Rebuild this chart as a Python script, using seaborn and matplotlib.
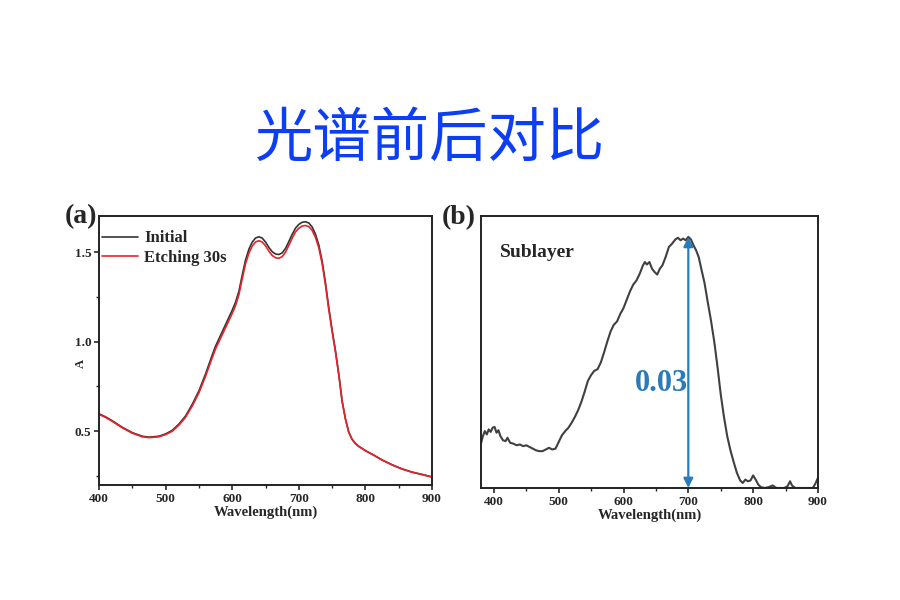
import numpy as np
import pandas as pd
import matplotlib
matplotlib.use("Agg")
import matplotlib.pyplot as plt
from matplotlib.ticker import MultipleLocator
import seaborn as sns

# ---------------- data ----------------
wl_a = [400, 410, 420, 435, 450, 465, 475, 490, 500, 510, 520, 530, 540, 550, 560,
        570, 575, 580, 590, 600, 605, 610, 615, 620, 625, 630, 635, 640, 645, 650,
        655, 660, 665, 670, 675, 680, 685, 690, 695, 700, 705, 710, 715, 720, 725,
        730, 735, 740, 745, 750, 755, 760, 765, 770, 775, 780, 785, 790, 800, 812,
        825, 840, 855, 870, 885, 900]
initial = [0.597, 0.580, 0.558, 0.522, 0.492, 0.472, 0.467, 0.472, 0.485, 0.505, 0.540, 0.585, 0.650, 0.725, 0.820,
           0.925, 0.975, 1.015, 1.095, 1.175, 1.220, 1.280, 1.370, 1.455, 1.515, 1.555, 1.578, 1.585, 1.578, 1.556,
           1.526, 1.502, 1.489, 1.486, 1.495, 1.520, 1.558, 1.598, 1.633, 1.654, 1.666, 1.669, 1.662, 1.640, 1.600,
           1.540, 1.450, 1.330, 1.190, 1.065, 0.950, 0.820, 0.670, 0.570, 0.495, 0.455, 0.432, 0.416, 0.392, 0.368,
           0.340, 0.313, 0.290, 0.272, 0.259, 0.245]
etching = [0.594, 0.577, 0.555, 0.519, 0.489, 0.469, 0.464, 0.469, 0.481, 0.500, 0.534, 0.578, 0.641, 0.714, 0.807,
           0.910, 0.960, 0.999, 1.078, 1.157, 1.201, 1.261, 1.350, 1.434, 1.493, 1.533, 1.556, 1.563, 1.556, 1.535,
           1.505, 1.481, 1.468, 1.465, 1.474, 1.499, 1.537, 1.577, 1.612, 1.633, 1.645, 1.648, 1.642, 1.621, 1.582,
           1.524, 1.436, 1.318, 1.180, 1.057, 0.944, 0.816, 0.667, 0.568, 0.494, 0.454, 0.431, 0.415, 0.391, 0.367,
           0.339, 0.312, 0.289, 0.271, 0.258, 0.244]

wl_b = [380, 383, 386, 389, 392, 395, 398, 401, 404, 407, 410, 414, 418, 421, 425,
        430, 435, 440, 445, 450, 455, 460, 465, 470, 475, 480, 485, 490, 495, 500,
        505, 510, 515, 520, 525, 530, 535, 540, 545, 550, 555, 560, 565, 570, 575,
        580, 585, 590, 595, 600, 605, 610, 615, 620, 625, 630, 633, 636, 640, 644,
        648, 652, 656, 660, 665, 670, 675, 680, 684, 688, 692, 696, 700, 704, 708,
        712, 716, 720, 725, 730, 735, 740, 745, 750, 755, 760, 765, 770, 775, 780,
        784, 788, 792, 796, 800, 804, 808, 812, 818, 824, 830, 836, 842, 848, 853,
        857, 860, 865, 870, 878, 886, 892, 896, 900]
sublayer = [0.0053, 0.0062, 0.0068, 0.0064, 0.0070, 0.0067, 0.0072, 0.0073, 0.0066, 0.0069, 0.0062, 0.0057, 0.0056, 0.0060, 0.0054,
            0.0053, 0.0051, 0.0052, 0.0050, 0.0051, 0.0049, 0.0047, 0.0045, 0.0044, 0.0044, 0.0046, 0.0048, 0.0046, 0.0047, 0.0055,
            0.0063, 0.0068, 0.0072, 0.0078, 0.0085, 0.0093, 0.0103, 0.0115, 0.0128, 0.0135, 0.0140, 0.0142, 0.0150, 0.0162, 0.0175,
            0.0187, 0.0195, 0.0199, 0.0208, 0.0215, 0.0225, 0.0235, 0.0243, 0.0248, 0.0256, 0.0266, 0.0270, 0.0267, 0.0270, 0.0262,
            0.0258, 0.0255, 0.0262, 0.0266, 0.0276, 0.0288, 0.0292, 0.0297, 0.0299, 0.0296, 0.0298, 0.0296, 0.0300, 0.0297, 0.0290,
            0.0284, 0.0276, 0.0262, 0.0245, 0.0222, 0.0200, 0.0175, 0.0145, 0.0112, 0.0085, 0.0062, 0.0045, 0.0031, 0.0018, 0.0009,
            0.0006, 0.0010, 0.0008, 0.0009, 0.0015, 0.0010, 0.0004, 0.0001, 0.0000, 0.0001, 0.0003, 0.0000, 0.0000, 0.0000, 0.0002,
            0.0008, 0.0003, 0.0000, 0.0000, 0.0000, 0.0000, 0.0000, 0.0005, 0.0012]

# ---------------- style ----------------
sns.set_theme(style="ticks")
plt.rcParams['font.family'] = ['Liberation Serif', 'DejaVu Serif']
plt.rcParams['font.weight'] = 'bold'

fig = plt.figure(figsize=(9, 6), dpi=100)
fig.patch.set_facecolor('white')

fig.text(0.478, 0.768, "光谱前后对比", fontsize=42, color='#0B3EF5', fontweight='normal',
         family=['Noto Sans CJK SC', 'DejaVu Sans'], ha='center', va='center')

ax1 = fig.add_axes([0.110, 0.1917, 0.370, 0.448])
ax2 = fig.add_axes([0.5344, 0.1867, 0.3744, 0.4533])

df_a = pd.DataFrame({
    "wl": wl_a * 2,
    "A": initial + etching,
    "series": ["Initial"] * len(wl_a) + ["Etching 30s"] * len(wl_a),
})
sns.lineplot(data=df_a, x="wl", y="A", hue="series",
             palette={"Initial": "#333333", "Etching 30s": "#E8222A"},
             ax=ax1, linewidth=1.2, legend=True)
ax1.set_xlim(400, 900)
ax1.set_ylim(0.2, 1.7)
ax1.xaxis.set_major_locator(MultipleLocator(100))
ax1.xaxis.set_minor_locator(MultipleLocator(50))
ax1.yaxis.set_major_locator(MultipleLocator(0.5))
ax1.yaxis.set_minor_locator(MultipleLocator(0.25))
ax1.set_xlabel("Wavelength(nm)", fontsize=10.5, fontweight='bold', labelpad=0.5)
ax1.set_ylabel("A", fontsize=9, fontweight='bold')
ax1.yaxis.set_label_coords(-0.037, 0.453)
leg = ax1.legend(loc='upper left', frameon=False, fontsize=12, handlelength=2.15,
                 bbox_to_anchor=(-0.01, 0.972), borderaxespad=0.0, labelspacing=0.2,
                 handletextpad=0.35)
for t in leg.get_texts():
    t.set_fontweight('bold')
ax1.text(-0.054, 1.0, "(a)", transform=ax1.transAxes, fontsize=20, fontweight='bold',
         ha='center', va='center')

df_b = pd.DataFrame({"wl": wl_b, "abs": sublayer})
sns.lineplot(data=df_b, x="wl", y="abs", ax=ax2, color="#404040", linewidth=1.5)
ax2.set_xlim(380, 900)
ax2.set_ylim(0, 0.0325)
ax2.xaxis.set_major_locator(MultipleLocator(100))
ax2.xaxis.set_minor_locator(MultipleLocator(50))
ax2.set_yticks([])
ax2.set_xlabel("Wavelength(nm)", fontsize=10.5, fontweight='bold', labelpad=0.5)
ax2.set_ylabel("")
ax2.annotate("", xy=(700, 0.0300), xytext=(700, 0.0),
             arrowprops=dict(arrowstyle='<|-|>', color='#2B7BBA', lw=1.6,
                             mutation_scale=14, shrinkA=0, shrinkB=0))
ax2.text(699, 0.0125, "0.03", color='#2B7BBA', fontsize=22, fontweight='bold',
         ha='right', va='center')
ax2.text(0.055, 0.865, "Sublayer", transform=ax2.transAxes, fontsize=14,
         fontweight='bold', ha='left', va='center')
ax2.text(-0.065, 0.993, "(b)", transform=ax2.transAxes, fontsize=20, fontweight='bold',
         ha='center', va='center')

for ax in (ax1, ax2):
    for s in ax.spines.values():
        s.set_visible(True)
        s.set_color('#222222')
        s.set_linewidth(1.4)
    ax.tick_params(axis='both', which='major', direction='out', length=3.5, width=1.2,
                   labelsize=9.5, pad=2)
    ax.tick_params(axis='both', which='minor', direction='out', length=2, width=1.0)
    for lab in ax.get_xticklabels() + ax.get_yticklabels():
        lab.set_fontweight('bold')
ax2.tick_params(axis='y', which='both', left=False)

fig.savefig("out.png", dpi=100, facecolor='white')
